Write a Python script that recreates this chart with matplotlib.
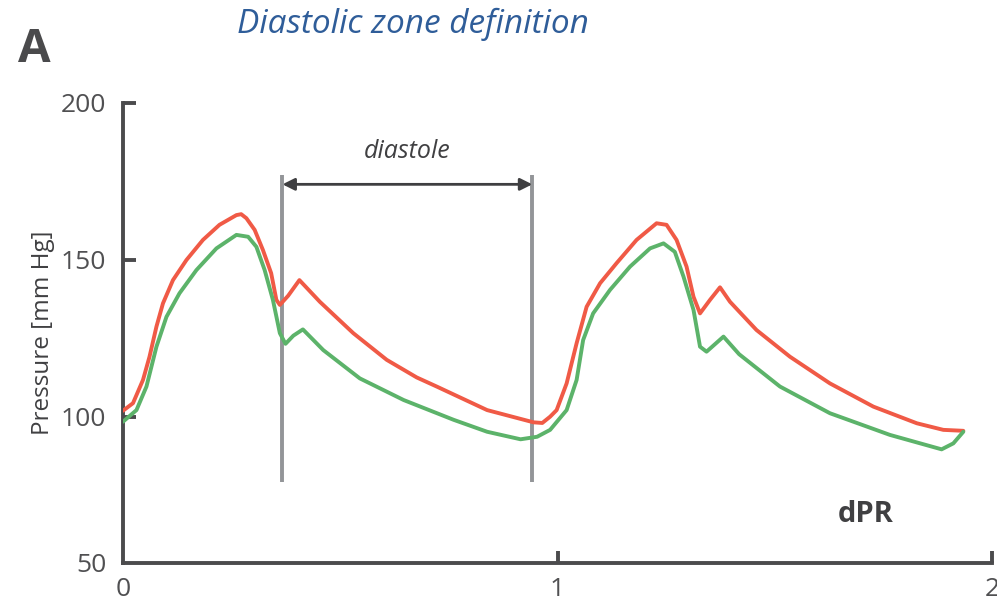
import matplotlib
matplotlib.use("Agg")
import matplotlib.pyplot as plt

# ---- data ----
red_x = [0.000, 0.023, 0.046, 0.061, 0.077, 0.092, 0.115, 0.146, 0.184, 0.222, 0.261, 0.272, 0.284, 0.303, 0.322,
         0.341, 0.353, 0.361, 0.380, 0.406, 0.453, 0.530, 0.607, 0.676, 0.722, 0.838, 0.945, 0.965, 0.983, 0.998,
         1.021, 1.044, 1.067, 1.098, 1.136, 1.182, 1.228, 1.251, 1.274, 1.297, 1.313, 1.328, 1.351, 1.374, 1.397,
         1.458, 1.535, 1.627, 1.727, 1.827, 1.888, 1.934]
red_y = [101.9, 104.3, 111.7, 119.1, 128.7, 136.1, 143.5, 149.9, 156.3, 161.1, 164.2, 164.5, 163.2, 159.5, 153.1,
         145.7, 137.2, 135.6, 138.5, 143.5, 136.6, 126.6, 118.1, 112.5, 109.6, 102.1, 98.2, 98.0, 100.0, 102.1,
         110.6, 123.4, 135.0, 142.5, 148.9, 156.3, 161.6, 161.1, 156.3, 147.8, 138.2, 132.9, 137.2, 141.2, 136.6,
         127.6, 119.1, 110.6, 103.2, 97.9, 95.8, 95.5]

green_x = [0.000, 0.031, 0.054, 0.077, 0.100, 0.130, 0.169, 0.215, 0.261, 0.288, 0.307, 0.326, 0.345, 0.361,
           0.374, 0.392, 0.414, 0.461, 0.545, 0.646, 0.761, 0.838, 0.915, 0.953, 0.983, 1.021, 1.044, 1.059,
           1.082, 1.121, 1.167, 1.213, 1.244, 1.270, 1.290, 1.313, 1.328, 1.343, 1.382, 1.418, 1.512, 1.627,
           1.765, 1.884, 1.911, 1.934]
green_y = [98.4, 102.1, 109.6, 122.3, 131.8, 139.3, 146.7, 153.6, 157.9, 157.3, 154.1, 146.7, 137.2, 126.6,
           123.2, 125.8, 127.8, 121.2, 112.2, 105.3, 99.0, 95.2, 92.8, 93.6, 95.8, 102.1, 111.7, 124.4,
           132.9, 140.4, 147.8, 153.6, 155.2, 152.5, 144.6, 134.0, 122.3, 120.7, 125.5, 119.9, 109.6, 101.1,
           94.2, 89.6, 91.5, 95.2]

diastole_x = [0.367, 0.942]
diastole_ymin, diastole_ymax = 79.3, 177.0
arrow_y = 174.0

ytick_vals = [53.4, 100, 150, 200]
ytick_labels = ["50", "100", "150", "200"]
xtick_vals = [0, 1, 2]
xtick_labels = ["0", "1", "2"]

# ---- figure ----
plt.rcParams['font.family'] = ['Open Sans', 'DejaVu Sans']
fig = plt.figure(figsize=(9.97, 6.04), dpi=100)
ax = fig.add_axes([123/997, 1-563/604, (992-123)/997, (563-102.7)/604])

spine_col = '#4b4b4d'
ax.plot(red_x, red_y, color='#f05a46', lw=2.8, solid_joinstyle='round', solid_capstyle='round', zorder=3)
ax.plot(green_x, green_y, color='#5cb36a', lw=2.8, solid_joinstyle='round', solid_capstyle='round', zorder=3)

for xv in diastole_x:
    ax.plot([xv, xv], [diastole_ymin, diastole_ymax], color='#939598', lw=2.8, zorder=2, solid_capstyle='butt')

ax.annotate('', xy=(diastole_x[1], arrow_y), xytext=(diastole_x[0], arrow_y),
            arrowprops=dict(arrowstyle='<|-|>', color='#3f3f41', lw=2.0, mutation_scale=18,
                            shrinkA=0, shrinkB=0))
ax.text(sum(diastole_x)/2, 184.4, 'diastole', style='italic', fontsize=18, color='#404042',
        ha='center', va='center')
ax.text(1.71, 69, 'dPR', fontsize=21, fontweight='bold', color='#404042', ha='center', va='center')

ax.set_xlim(0, 2)
ax.set_ylim(53.4, 200)
for s in ['top', 'right']:
    ax.spines[s].set_visible(False)
for s in ['left', 'bottom']:
    ax.spines[s].set_color(spine_col)
    ax.spines[s].set_linewidth(2.8)
    ax.spines[s].set_capstyle('projecting')

ax.set_yticks(ytick_vals)
ax.set_yticklabels(ytick_labels)
ax.set_xticks(xtick_vals)
ax.set_xticklabels(xtick_labels)
ax.tick_params(axis='both', direction='in', length=9, width=2.8, color=spine_col,
               labelsize=19, labelcolor='#505052')
ax.tick_params(axis='y', pad=12)
ax.tick_params(axis='x', pad=10)
ax.yaxis.get_major_ticks()[0].tick1line.set_visible(False)
ax.xaxis.get_major_ticks()[0].tick1line.set_visible(False)

ax.set_ylabel('Pressure [mm Hg]', fontsize=17.5, color='#404042', labelpad=4)

fig.text(18/997, 1-62/604, 'A', fontsize=34, color='#4a4a4c', ha='left', va='baseline', fontweight='bold')
fig.text(413/997, 1-33/604, 'Diastolic zone definition', fontsize=24, style='italic', color='#2f5d99',
         ha='center', va='baseline')

fig.savefig('out.png', dpi=100)
